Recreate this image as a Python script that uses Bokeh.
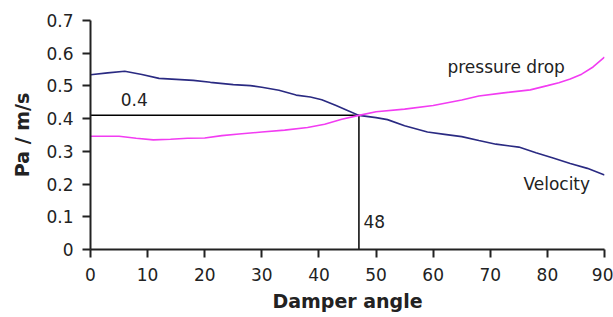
from bokeh.plotting import figure
from bokeh.models import Range1d, FixedTicker
from bokeh.core.properties import value
from bokeh.embed import file_html
from bokeh.resources import INLINE

# ---- data ----
vel_x = [0, 3, 6, 9, 12, 15, 18, 21, 25, 28, 30, 33, 36, 38.5, 40.5, 43, 45, 47,
         50, 52, 55, 59, 62, 65, 68, 71, 75, 78, 81, 84, 87, 90]
vel_y = [0.534, 0.540, 0.545, 0.535, 0.523, 0.520, 0.517, 0.511, 0.504, 0.501,
         0.496, 0.487, 0.472, 0.466, 0.458, 0.440, 0.425, 0.410, 0.403, 0.397,
         0.378, 0.359, 0.352, 0.345, 0.333, 0.322, 0.313, 0.296, 0.280, 0.263,
         0.248, 0.228]

pres_x = [0, 5, 8, 11, 14, 17, 20, 23, 26, 30, 34, 38, 41, 44, 47, 50, 55, 60,
          65, 68, 72, 77, 80, 82, 84, 86, 88, 90]
pres_y = [0.346, 0.346, 0.340, 0.335, 0.337, 0.340, 0.341, 0.348, 0.353, 0.359,
          0.365, 0.373, 0.383, 0.398, 0.410, 0.421, 0.429, 0.440, 0.457, 0.469,
          0.478, 0.488, 0.501, 0.510, 0.521, 0.536, 0.558, 0.588]

x_ticks = [0, 10, 20, 30, 40, 50, 60, 70, 80, 90]
y_ticks = [0, 0.1, 0.2, 0.3, 0.4, 0.5, 0.6, 0.7]

cross_x = 47
cross_y = 0.41

FONT = "DejaVu Sans"
INK = "#222222"

p = figure(width=613, height=317, output_backend="svg", toolbar_location=None,
           x_range=Range1d(0, 90), y_range=Range1d(0, 0.7),
           min_border_left=90, min_border_right=9, min_border_top=20,
           min_border_bottom=68)
p.outline_line_color = None
p.grid.visible = False
p.background_fill_color = "white"
p.border_fill_color = "white"

for ax in (p.xaxis[0], p.yaxis[0]):
    ax.axis_line_color = INK
    ax.axis_line_width = 2
    ax.major_tick_line_color = INK
    ax.major_tick_line_width = 2
    ax.major_tick_out = 8
    ax.major_tick_in = 0
    ax.minor_tick_line_color = None
    ax.major_label_text_font = FONT
    ax.major_label_text_font_size = "17px"
    ax.major_label_text_color = INK
    ax.axis_label_text_font = FONT
    ax.axis_label_text_font_size = "19px"
    ax.axis_label_text_font_style = "bold"
    ax.axis_label_text_color = INK

p.xaxis.ticker = FixedTicker(ticks=x_ticks)
p.yaxis.ticker = FixedTicker(ticks=y_ticks)
p.yaxis.major_label_overrides = {0: "0"}
p.xaxis.major_label_standoff = 10
p.yaxis.major_label_standoff = 9
p.xaxis.axis_label = "Damper angle"
p.yaxis.axis_label = "Pa / m/s"
p.xaxis.axis_label_standoff = 6
p.yaxis.axis_label_standoff = 10

# reference lines
p.line([0, cross_x], [cross_y, cross_y], line_color="black", line_width=1.5)
p.line([cross_x, cross_x], [0, cross_y], line_color="black", line_width=1.5)

# curves
p.line(vel_x, vel_y, line_color="#2a2a82", line_width=1.6)
p.line(pres_x, pres_y, line_color="#f23cf2", line_width=1.6)

# annotations
p.text(x=[5.3], y=[0.46], text=["0.4"], text_font=value(FONT),
       text_font_size="17px", text_color=INK, text_baseline="alphabetic")
p.text(x=[47.8], y=[0.087], text=["48"], text_font=value(FONT),
       text_font_size="17px", text_color=INK, text_baseline="alphabetic")
p.text(x=[62.5], y=[0.557], text=["pressure drop"], text_font=value(FONT),
       text_font_size="17px", text_color=INK, text_baseline="alphabetic")
p.text(x=[75.8], y=[0.200], text=["Velocity"], text_font=value(FONT),
       text_font_size="17px", text_color=INK, text_baseline="alphabetic")

open("out.html", "w").write(file_html(p, INLINE))
